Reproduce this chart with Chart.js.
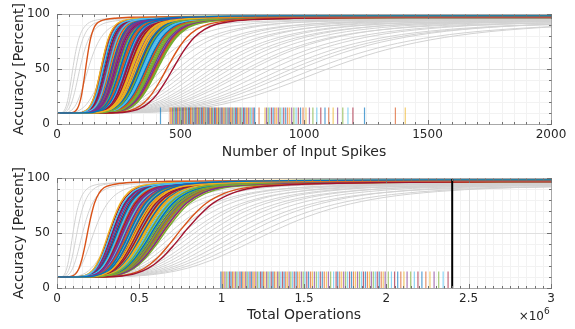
<!DOCTYPE html>
<html><head><meta charset="utf-8">
<script src="https://cdn.jsdelivr.net/npm/chart.js@4.4.0/dist/chart.umd.min.js"></script>
<style>
html,body{margin:0;padding:0;background:#fff;}
#wrap{position:relative;width:575px;height:329px;overflow:hidden;}
canvas{position:absolute;left:0;}
</style></head><body>
<div id="wrap">
<canvas id="c1" width="575" height="164" style="top:0"></canvas>
<canvas id="c2" width="575" height="165" style="top:164px"></canvas>
</div>
<script>
// ---------------- DATA ----------------
const BASELINE = 10;             // accuracy at start (percent)
const RUG_HEIGHT = 15;           // rug marks height (percent)
const OPS_BUDGET = 2.4e6;        // vertical black reference line (total operations)

// Rise mid-points of the coloured curves (Number of Input Spikes)
const colTopMid = [
 260,118,305,228,342,189,478, 275,452,318,246,389,212,297,
 333,268,181,401,252,356,289, 224,372,310,238,415,279,198,
 347,263,327,205,380,294,241, 366,216,320,284,412,255,338,
 193,303,271,394,231,351,287, 258,409,220,314,344,266,186,
 375,299,243,330,208,361,281, 250,405,292,235,385,312,273,
 201,354,262,324,226,398,296, 248,369,285,214,336,277,182,
 307,254,391,318,233,348,270];
// Rise mid-points of the coloured curves (Total Operations)
const colBotMid = [
 0.452e6,0.19e6,0.49e6,0.41e6,0.575e6,0.335e6,0.79e6, 0.47e6,0.755e6,0.545e6,0.405e6,0.62e6,0.385e6,0.515e6,
 0.535e6,0.44e6,0.322e6,0.655e6,0.45e6,0.565e6,0.5e6, 0.375e6,0.615e6,0.5e6,0.43e6,0.668e6,0.458e6,0.368e6,
 0.59e6,0.465e6,0.525e6,0.352e6,0.6e6,0.51e6,0.398e6, 0.61e6,0.395e6,0.55e6,0.462e6,0.645e6,0.42e6,0.542e6,
 0.36e6,0.495e6,0.475e6,0.625e6,0.415e6,0.592e6,0.468e6, 0.428e6,0.66e6,0.372e6,0.538e6,0.555e6,0.445e6,0.345e6,
 0.598e6,0.518e6,0.4e6,0.53e6,0.38e6,0.58e6,0.488e6, 0.442e6,0.64e6,0.478e6,0.418e6,0.635e6,0.505e6,0.448e6,
 0.342e6,0.57e6,0.435e6,0.55e6,0.408e6,0.63e6,0.482e6, 0.412e6,0.588e6,0.496e6,0.39e6,0.568e6,0.455e6,0.328e6,
 0.52e6,0.425e6,0.618e6,0.512e6,0.392e6,0.585e6,0.472e6];
// Final accuracy of the coloured curves
const colFinal = [
 98.5,97.6,97.9,97.2,98.1,97.5,97.4, 97.8,97.3,98.0,97.1,97.7,98.2,97.5,
 97.9,97.0,98.1,97.6,97.4,98.0,97.3, 97.7,97.2,98.3,97.5,97.0,97.9,97.6,
 98.0,97.4,97.1,97.8,97.6,98.2,97.3, 97.5,97.9,97.2,98.1,97.4,97.0,97.8,
 97.6,98.0,97.3,97.7,97.9,97.1,98.2, 97.4,97.8,97.6,97.0,98.1,97.5,97.2,
 97.9,97.3,98.0,97.6,97.1,97.7,98.3, 97.2,97.6,97.9,97.4,97.8,97.0,98.0,
 97.7,97.5,97.2,98.1,97.6,97.3,97.9, 98.0,97.1,97.7,97.5,97.9,97.4,97.6,
 97.3,97.8,97.0,97.6,98.2,97.5,97.7];

// Grey (background) curves
const grayTopMid   = [66,78,95,130,200,260,330,400,440,470,500,530,555,580,610,640,665,690,720,750,780,810,850,890,930,970,1010,1060,1120];
const grayTopFinal = [96.5,96,95.5,96,95.5,96,95,95.5,95,96,94.5,95.5,95,94,95.5,94.5,95,94,95,94.5,93.5,95,94,94.5,93.5,94,95,93.5,94.5];
const grayBotMid   = [0.10e6,0.125e6,0.16e6,0.23e6,0.35e6,0.45e6,0.55e6,0.61e6,0.66e6,0.7e6,0.74e6,0.78e6,0.82e6,0.86e6,0.9e6,0.94e6,0.98e6,1.03e6,1.08e6,1.13e6,1.19e6,1.25e6,1.32e6];
const grayBotFinal = [96,96.5,95.5,96,95.5,96,95,95.5,96,94.5,95.5,95,94,95.5,94.5,95,94,95,94.5,93.5,95,94,94.5];

// Shape templates: x / mid-point  ->  fraction of the rise
const colTopR = [0,0.5,0.6,0.7,0.78,0.85,0.92,1.0,1.08,1.16,1.25,1.35,1.5,1.7,2.0,2.5,3.5];
const colTopP = [0,0.003,0.013,0.046,0.108,0.2,0.33,0.5,0.66,0.785,0.872,0.925,0.958,0.975,0.986,0.995,1.0];
const colBotR = [0,0.4,0.5,0.6,0.7,0.8,0.9,1.0,1.1,1.2,1.35,1.5,1.75,2.0,2.5,3.5,5];
const colBotP = [0,0.003,0.011,0.035,0.089,0.19,0.335,0.5,0.65,0.77,0.875,0.928,0.958,0.972,0.985,0.995,1.0];
const grayR   = [0,0.3,0.4,0.5,0.6,0.7,0.8,0.9,1.0,1.15,1.3,1.5,1.75,2.0,2.5,3.0,4.0,6.0];
const grayP   = [0,0.005,0.017,0.045,0.095,0.172,0.273,0.386,0.5,0.649,0.76,0.856,0.921,0.955,0.982,0.992,0.998,1.0];

// Rug marks (convergence points)
const rugTop = [419,458,463,467,472,476,479,484,488,491,495,499,502,506,510,513,517,521,524,529,532,536,540,543,547,551,555,558,562,566,569,573,577,580,584,588,592,595,599,603,607,610,614,618,622,626,629,633,637,641,645,649,653,656,660,664,668,672,676,680,684,688,692,697,701,705,709,713,718,722,727,731,736,741,745,750,755,760,766,771,776,782,788,794,800,818,842,848,855,861,868,875,882,889,896,903,911,918,926,934,942,950,959,968,977,986,996,1008,1022,1036,1052,1068,1085,1100,1118,1136,1157,1178,1198,1245,1370,1410];
const rugBot = [0.995e6,1.003e6,1.012e6,1.02e6,1.031e6,1.04e6,1.048e6,1.057e6,1.066e6,1.074e6,1.083e6,1.092e6,1.1e6,1.111e6,1.12e6,1.128e6,1.137e6,1.146e6,1.155e6,1.163e6,1.172e6,1.181e6,1.19e6,1.199e6,1.208e6,1.218e6,1.227e6,1.236e6,1.245e6,1.254e6,1.263e6,1.273e6,1.282e6,1.292e6,1.301e6,1.311e6,1.32e6,1.33e6,1.34e6,1.349e6,1.359e6,1.369e6,1.379e6,1.389e6,1.399e6,1.41e6,1.42e6,1.43e6,1.441e6,1.452e6,1.462e6,1.473e6,1.484e6,1.495e6,1.506e6,1.517e6,1.528e6,1.54e6,1.551e6,1.563e6,1.575e6,1.587e6,1.599e6,1.611e6,1.623e6,1.636e6,1.648e6,1.662e6,1.68e6,1.695e6,1.705e6,1.717e6,1.729e6,1.741e6,1.753e6,1.765e6,1.777e6,1.789e6,1.801e6,1.813e6,1.825e6,1.837e6,1.849e6,1.861e6,1.873e6,1.885e6,1.897e6,1.909e6,1.921e6,1.933e6,1.945e6,1.957e6,1.969e6,1.981e6,1.993e6,2.012e6,2.031e6,2.05e6,2.069e6,2.088e6,2.107e6,2.126e6,2.148e6,2.17e6,2.192e6,2.216e6,2.24e6,2.265e6,2.29e6,2.318e6,2.345e6,2.375e6];

// ---------------- RENDERING ----------------
const FONT = '"DejaVu Sans", "Liberation Sans", sans-serif';
const TXT = '#262626';
const PALETTE = ['#0072BD','#D95319','#EDB120','#7E2F8E','#77AC30','#4DBEEE','#A2142F'];
function rgba(hex,a){const n=parseInt(hex.slice(1),16);return `rgba(${n>>16},${(n>>8)&255},${n&255},${a})`;}
Chart.defaults.font.family = FONT;

function curvePoints(mid, fin, R, P, xMax){
  const pts = R.map((r,i)=>({x: mid*r, y: BASELINE + (fin-BASELINE)*P[i]}));
  if (mid*R[R.length-1] < xMax) pts.push({x:xMax, y:fin});
  return pts;
}

const matlabAxes = {
  id:'matlabAxes',
  beforeDatasetsDraw(chart, _a, o){
    const {ctx, chartArea:a, scales:{x,y}} = chart;
    ctx.save(); ctx.lineWidth = 1;
    const vl = (step,col)=>{const n=Math.round((x.max-x.min)/step);ctx.strokeStyle=col;ctx.beginPath();
      for(let i=0;i<=n;i++){const p=Math.round(x.getPixelForValue(x.min+i*step))+0.5;ctx.moveTo(p,a.top);ctx.lineTo(p,a.bottom);}ctx.stroke();};
    const hl = (step,col)=>{const n=Math.round((y.max-y.min)/step);ctx.strokeStyle=col;ctx.beginPath();
      for(let i=0;i<=n;i++){const p=Math.round(y.getPixelForValue(y.min+i*step))+0.5;ctx.moveTo(a.left,p);ctx.lineTo(a.right,p);}ctx.stroke();};
    vl(o.xMinor,'#f2f2f2'); hl(o.yMinor,'#f2f2f2');
    vl(o.xMajor,'#e0e0e0'); hl(o.yMajor,'#e0e0e0');
    ctx.restore();
  },
  afterDatasetsDraw(chart, _a, o){
    const {ctx, chartArea:a, scales:{x,y}} = chart;
    ctx.save(); ctx.lineWidth = 1;
    const L=Math.round(a.left)+0.5, R=Math.round(a.right)+0.5, T=Math.round(a.top)+0.5, B=Math.round(a.bottom)+0.5;
    ctx.strokeStyle = '#a8a8a8';
    ctx.strokeRect(L,T,R-L,B-T);
    ctx.strokeStyle = '#707070';
    ctx.beginPath();
    const xt=(step,len)=>{const n=Math.round((x.max-x.min)/step);for(let i=0;i<=n;i++){const p=Math.round(x.getPixelForValue(x.min+i*step))+0.5;ctx.moveTo(p,B);ctx.lineTo(p,B-len);ctx.moveTo(p,T);ctx.lineTo(p,T+len);}};
    const yt=(step,len)=>{const n=Math.round((y.max-y.min)/step);for(let i=0;i<=n;i++){const p=Math.round(y.getPixelForValue(y.min+i*step))+0.5;ctx.moveTo(L,p);ctx.lineTo(L+len,p);ctx.moveTo(R,p);ctx.lineTo(R-len,p);}};
    xt(o.xMinor,2.5); yt(o.yMinor,2.5); xt(o.xMajor,4.5); yt(o.yMajor,4.5);
    ctx.stroke();
    if (o.exponent){
      ctx.fillStyle = TXT; ctx.textBaseline='alphabetic'; ctx.textAlign='right';
      ctx.font = '12px '+FONT;
      ctx.fillText('\u00d710', a.right-7, a.bottom+32);
      ctx.textAlign='left'; ctx.font = '9px '+FONT;
      ctx.fillText(o.exponent, a.right-7, a.bottom+26);
    }
    ctx.restore();
  }
};

function build(canvasId, p){
  const ds = [];
  if (p.refLine) ds.push({data:[{x:p.refLine,y:0},{x:p.refLine,y:100}], borderColor:'#000', borderWidth:2, pointRadius:0});
  p.mids.forEach((m,i)=>ds.push({data:curvePoints(m,colFinal[i],p.R,p.P,p.xMax), borderColor:PALETTE[i%7], borderWidth:1.4, pointRadius:0, cubicInterpolationMode:'monotone'}));
  p.rug.forEach((v,i)=>ds.push({data:[{x:v,y:0},{x:v,y:RUG_HEIGHT}], borderColor:rgba(PALETTE[i%7],0.65), borderWidth:1.2, pointRadius:0}));
  p.gMids.forEach((m,i)=>ds.push({data:curvePoints(m,p.gFinal[i],grayR,grayP,p.xMax), borderColor:'#d2d2d2', borderWidth:1, pointRadius:0, cubicInterpolationMode:'monotone'}));
  return new Chart(document.getElementById(canvasId), {
    type:'line',
    data:{datasets:ds},
    options:{
      responsive:false, animation:false, devicePixelRatio:1, events:[],
      layout:{padding:{left:0,right:24,top:13,bottom:0}},
      plugins:{legend:{display:false}, tooltip:{enabled:false},
        matlabAxes:{xMajor:p.xMajor, xMinor:p.xMinor, yMajor:50, yMinor:10, exponent:p.exponent}},
      scales:{
        x:{type:'linear', min:0, max:p.xMax,
           afterFit(s){s.height=p.xHeight;},
           grid:{display:false, drawTicks:false}, border:{display:false},
           ticks:{stepSize:p.xMajor, autoSkip:false, maxRotation:0, padding:4, color:TXT, font:{size:12}, callback:p.fmt},
           title:{display:true, text:p.xTitle, color:TXT, font:{size:14}, padding:{top:0,bottom:p.titlePad}}},
        y:{type:'linear', min:0, max:100,
           afterFit(s){s.width=57;},
           grid:{display:false, drawTicks:false}, border:{display:false},
           ticks:{stepSize:50, padding:7, color:TXT, font:{size:12}},
           title:{display:true, text:'Accuracy [Percent]', color:TXT, font:{size:14}, padding:{top:11,bottom:0}}}
      }
    },
    plugins:[matlabAxes]
  });
}

build('c1', {xMax:2000, xMajor:500, xMinor:50, mids:colTopMid, R:colTopR, P:colTopP, rug:rugTop,
  gMids:grayTopMid, gFinal:grayTopFinal, xTitle:'Number of Input Spikes', xHeight:40, titlePad:3,
  fmt:v=>String(v)});
build('c2', {xMax:3e6, xMajor:5e5, xMinor:5e4, mids:colBotMid, R:colBotR, P:colBotP, rug:rugBot,
  gMids:grayBotMid, gFinal:grayBotFinal, xTitle:'Total Operations', xHeight:41, titlePad:5,
  refLine:OPS_BUDGET, exponent:'6', fmt:v=>String(+(v/1e6).toFixed(1))});
</script>
</body></html>
